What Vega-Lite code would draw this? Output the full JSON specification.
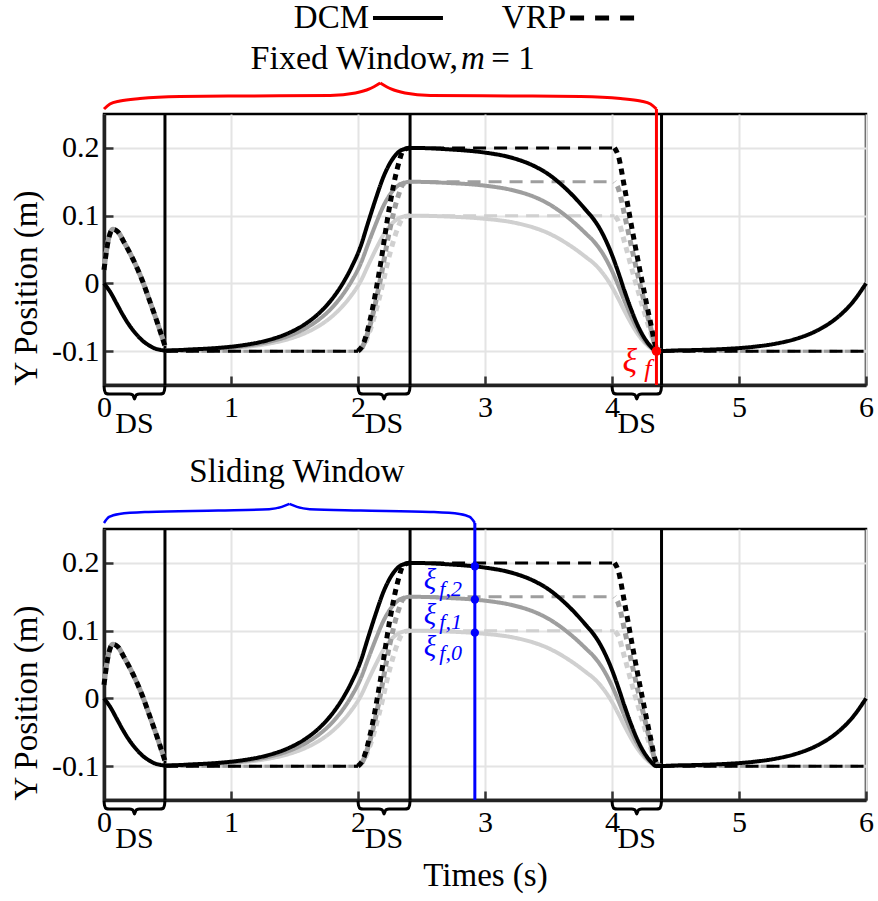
{
 "$schema": "https://vega.github.io/schema/vega-lite/v6.json",
 "background": "white",
 "padding": {"left": 9, "top": 0, "right": 4, "bottom": 4},
 "bounds": "flush",
 "spacing": 144,
 "config": {
  "font": "Liberation Serif",
  "view": {"stroke": "#000", "strokeWidth": 2.5},
  "axis": {
   "labelFont": "Liberation Serif", "titleFont": "Liberation Serif",
   "labelFontSize": 30, "labelColor": "#000",
   "titleFontSize": 33, "titleFontWeight": "normal", "titleColor": "#000",
   "gridColor": "#e4e4e4", "gridWidth": 2,
   "domainColor": "#222", "domainWidth": 3.5,
   "tickColor": "#333", "tickWidth": 2.5, "tickSize": -9, "labelPadding": 16,
   "labelFlush": false, "labelOverlap": false
  }
 },
 "datasets": {
  "curves": [
   {"l":2,"k":"s","g":"d","t":0,"v":0},{"l":2,"k":"s","g":"d","t":0.05,"v":-0.013},{"l":2,"k":"s","g":"d","t":0.1,"v":-0.03},{"l":2,"k":"s","g":"d","t":0.15,"v":-0.047},{"l":2,"k":"s","g":"d","t":0.2,"v":-0.062},{"l":2,"k":"s","g":"d","t":0.25,"v":-0.074},{"l":2,"k":"s","g":"d","t":0.3,"v":-0.084},{"l":2,"k":"s","g":"d","t":0.35,"v":-0.091},{"l":2,"k":"s","g":"d","t":0.4,"v":-0.096},{"l":2,"k":"s","g":"d","t":0.44,"v":-0.098},{"l":2,"k":"s","g":"d","t":0.48,"v":-0.099},
   {"l":2,"k":"s","g":"d","t":0.7,"v":-0.0974},{"l":2,"k":"s","g":"d","t":0.9,"v":-0.0952},{"l":2,"k":"s","g":"d","t":1.1,"v":-0.0911},{"l":2,"k":"s","g":"d","t":1.3,"v":-0.0834},{"l":2,"k":"s","g":"d","t":1.45,"v":-0.0736},{"l":2,"k":"s","g":"d","t":1.6,"v":-0.058},{"l":2,"k":"s","g":"d","t":1.7,"v":-0.0428},{"l":2,"k":"s","g":"d","t":1.8,"v":-0.022},{"l":2,"k":"s","g":"d","t":1.88,"v":0},{"l":2,"k":"s","g":"d","t":1.95,"v":0.0242},{"l":2,"k":"s","g":"d","t":2.02,"v":0.0543},{"l":2,"k":"s","g":"d","t":2.08,"v":0.09},{"l":2,"k":"s","g":"d","t":2.14,"v":0.125},{"l":2,"k":"s","g":"d","t":2.2,"v":0.157},{"l":2,"k":"s","g":"d","t":2.26,"v":0.18},{"l":2,"k":"s","g":"d","t":2.32,"v":0.194},{"l":2,"k":"s","g":"d","t":2.38,"v":0.199},{"l":2,"k":"s","g":"d","t":2.41,"v":0.2},
   {"l":2,"k":"s","g":"d","t":2.7,"v":0.198},{"l":2,"k":"s","g":"d","t":3.0,"v":0.193},{"l":2,"k":"s","g":"d","t":3.2,"v":0.186},{"l":2,"k":"s","g":"d","t":3.4,"v":0.172},{"l":2,"k":"s","g":"d","t":3.5,"v":0.161},{"l":2,"k":"s","g":"d","t":3.6,"v":0.146},{"l":2,"k":"s","g":"d","t":3.7,"v":0.128},{"l":2,"k":"s","g":"d","t":3.8,"v":0.107},{"l":2,"k":"s","g":"d","t":3.85,"v":0.096},{"l":2,"k":"s","g":"d","t":3.9,"v":0.082},{"l":2,"k":"s","g":"d","t":3.95,"v":0.064},{"l":2,"k":"s","g":"d","t":4.0,"v":0.042},{"l":2,"k":"s","g":"d","t":4.05,"v":0.016},{"l":2,"k":"s","g":"d","t":4.1,"v":-0.012},{"l":2,"k":"s","g":"d","t":4.15,"v":-0.038},{"l":2,"k":"s","g":"d","t":4.2,"v":-0.061},{"l":2,"k":"s","g":"d","t":4.25,"v":-0.079},{"l":2,"k":"s","g":"d","t":4.3,"v":-0.092},{"l":2,"k":"s","g":"d","t":4.35,"v":-0.1},
   {"l":2,"k":"s","g":"d","t":4.5,"v":-0.099},{"l":2,"k":"s","g":"d","t":4.7,"v":-0.0982},{"l":2,"k":"s","g":"d","t":4.9,"v":-0.0967},{"l":2,"k":"s","g":"d","t":5.1,"v":-0.0939},{"l":2,"k":"s","g":"d","t":5.3,"v":-0.0886},{"l":2,"k":"s","g":"d","t":5.45,"v":-0.0818},{"l":2,"k":"s","g":"d","t":5.6,"v":-0.071},{"l":2,"k":"s","g":"d","t":5.7,"v":-0.0605},{"l":2,"k":"s","g":"d","t":5.8,"v":-0.0462},{"l":2,"k":"s","g":"d","t":5.9,"v":-0.0267},{"l":2,"k":"s","g":"d","t":6.0,"v":0},
   {"l":2,"k":"w","g":"a","t":0,"v":0.02},{"l":2,"k":"w","g":"a","t":0.03,"v":0.06},{"l":2,"k":"w","g":"a","t":0.07,"v":0.08},{"l":2,"k":"w","g":"a","t":0.11,"v":0.076},{"l":2,"k":"w","g":"a","t":0.16,"v":0.06},{"l":2,"k":"w","g":"a","t":0.23,"v":0.035},{"l":2,"k":"w","g":"a","t":0.3,"v":0.005},{"l":2,"k":"w","g":"a","t":0.36,"v":-0.026},{"l":2,"k":"w","g":"a","t":0.42,"v":-0.058},{"l":2,"k":"w","g":"a","t":0.48,"v":-0.092},
   {"l":2,"k":"n","g":"b","t":0.48,"v":-0.1},{"l":2,"k":"n","g":"b","t":2.0,"v":-0.1},
   {"l":2,"k":"w","g":"c","t":2.0,"v":-0.1},{"l":2,"k":"w","g":"c","t":2.04,"v":-0.09},{"l":2,"k":"w","g":"c","t":2.1,"v":-0.05},{"l":2,"k":"w","g":"c","t":2.17,"v":0.02},{"l":2,"k":"w","g":"c","t":2.25,"v":0.115},{"l":2,"k":"w","g":"c","t":2.31,"v":0.17},{"l":2,"k":"w","g":"c","t":2.36,"v":0.197},{"l":2,"k":"w","g":"c","t":2.41,"v":0.2},
   {"l":2,"k":"n","g":"e","t":2.41,"v":0.2},{"l":2,"k":"n","g":"e","t":4.02,"v":0.2},
   {"l":2,"k":"w","g":"f","t":4.02,"v":0.2},{"l":2,"k":"w","g":"f","t":4.05,"v":0.188},{"l":2,"k":"w","g":"f","t":4.1,"v":0.14},{"l":2,"k":"w","g":"f","t":4.17,"v":0.068},{"l":2,"k":"w","g":"f","t":4.24,"v":0.0},{"l":2,"k":"w","g":"f","t":4.3,"v":-0.055},{"l":2,"k":"w","g":"f","t":4.35,"v":-0.095},{"l":2,"k":"w","g":"f","t":4.39,"v":-0.1},
   {"l":2,"k":"n","g":"h","t":4.39,"v":-0.1},{"l":2,"k":"n","g":"h","t":6.0,"v":-0.1},

   {"l":1,"k":"s","g":"d","t":0.48,"v":-0.099},{"l":1,"k":"s","g":"d","t":0.7,"v":-0.0978},{"l":1,"k":"s","g":"d","t":0.9,"v":-0.096},{"l":1,"k":"s","g":"d","t":1.1,"v":-0.0926},{"l":1,"k":"s","g":"d","t":1.3,"v":-0.0862},{"l":1,"k":"s","g":"d","t":1.45,"v":-0.078},{"l":1,"k":"s","g":"d","t":1.6,"v":-0.065},{"l":1,"k":"s","g":"d","t":1.7,"v":-0.0523},{"l":1,"k":"s","g":"d","t":1.8,"v":-0.035},{"l":1,"k":"s","g":"d","t":1.88,"v":-0.0167},{"l":1,"k":"s","g":"d","t":1.95,"v":0.0035},{"l":1,"k":"s","g":"d","t":2.02,"v":0.0286},{"l":1,"k":"s","g":"d","t":2.08,"v":0.0583},{"l":1,"k":"s","g":"d","t":2.14,"v":0.0875},{"l":1,"k":"s","g":"d","t":2.2,"v":0.1142},{"l":1,"k":"s","g":"d","t":2.26,"v":0.1333},{"l":1,"k":"s","g":"d","t":2.32,"v":0.145},{"l":1,"k":"s","g":"d","t":2.38,"v":0.1492},{"l":1,"k":"s","g":"d","t":2.41,"v":0.15},
   {"l":1,"k":"s","g":"d","t":2.7,"v":0.1483},{"l":1,"k":"s","g":"d","t":3.0,"v":0.1442},{"l":1,"k":"s","g":"d","t":3.2,"v":0.1383},{"l":1,"k":"s","g":"d","t":3.4,"v":0.1267},{"l":1,"k":"s","g":"d","t":3.5,"v":0.1175},{"l":1,"k":"s","g":"d","t":3.6,"v":0.105},{"l":1,"k":"s","g":"d","t":3.7,"v":0.09},{"l":1,"k":"s","g":"d","t":3.8,"v":0.0725},{"l":1,"k":"s","g":"d","t":3.85,"v":0.0633},{"l":1,"k":"s","g":"d","t":3.9,"v":0.0517},{"l":1,"k":"s","g":"d","t":3.95,"v":0.0367},{"l":1,"k":"s","g":"d","t":4.0,"v":0.0183},{"l":1,"k":"s","g":"d","t":4.05,"v":-0.0033},{"l":1,"k":"s","g":"d","t":4.1,"v":-0.0267},{"l":1,"k":"s","g":"d","t":4.15,"v":-0.0483},{"l":1,"k":"s","g":"d","t":4.2,"v":-0.0675},{"l":1,"k":"s","g":"d","t":4.25,"v":-0.0825},{"l":1,"k":"s","g":"d","t":4.3,"v":-0.0933},{"l":1,"k":"s","g":"d","t":4.35,"v":-0.1},
   {"l":1,"k":"w","g":"a","t":0,"v":0.02},{"l":1,"k":"w","g":"a","t":0.03,"v":0.06},{"l":1,"k":"w","g":"a","t":0.07,"v":0.08},{"l":1,"k":"w","g":"a","t":0.11,"v":0.076},{"l":1,"k":"w","g":"a","t":0.16,"v":0.06},{"l":1,"k":"w","g":"a","t":0.23,"v":0.035},{"l":1,"k":"w","g":"a","t":0.3,"v":0.005},{"l":1,"k":"w","g":"a","t":0.36,"v":-0.026},{"l":1,"k":"w","g":"a","t":0.42,"v":-0.058},{"l":1,"k":"w","g":"a","t":0.48,"v":-0.092},
   {"l":1,"k":"n","g":"b","t":0.48,"v":-0.1},{"l":1,"k":"n","g":"b","t":2.0,"v":-0.1},
   {"l":1,"k":"w","g":"c","t":2.0,"v":-0.1},{"l":1,"k":"w","g":"c","t":2.04,"v":-0.0917},{"l":1,"k":"w","g":"c","t":2.1,"v":-0.0583},{"l":1,"k":"w","g":"c","t":2.17,"v":0.0},{"l":1,"k":"w","g":"c","t":2.25,"v":0.0792},{"l":1,"k":"w","g":"c","t":2.31,"v":0.125},{"l":1,"k":"w","g":"c","t":2.36,"v":0.1475},{"l":1,"k":"w","g":"c","t":2.41,"v":0.15},
   {"l":1,"k":"n","g":"e","t":2.41,"v":0.15},{"l":1,"k":"n","g":"e","t":4.02,"v":0.15},
   {"l":1,"k":"w","g":"f","t":4.02,"v":0.15},{"l":1,"k":"w","g":"f","t":4.05,"v":0.14},{"l":1,"k":"w","g":"f","t":4.1,"v":0.1},{"l":1,"k":"w","g":"f","t":4.17,"v":0.04},{"l":1,"k":"w","g":"f","t":4.24,"v":-0.0167},{"l":1,"k":"w","g":"f","t":4.3,"v":-0.0625},{"l":1,"k":"w","g":"f","t":4.35,"v":-0.0958},{"l":1,"k":"w","g":"f","t":4.39,"v":-0.1},
   {"l":1,"k":"n","g":"h","t":4.39,"v":-0.1},{"l":1,"k":"n","g":"h","t":6.0,"v":-0.1},

   {"l":0,"k":"s","g":"d","t":0.48,"v":-0.0993},{"l":0,"k":"s","g":"d","t":0.7,"v":-0.0983},{"l":0,"k":"s","g":"d","t":0.9,"v":-0.0968},{"l":0,"k":"s","g":"d","t":1.1,"v":-0.0941},{"l":0,"k":"s","g":"d","t":1.3,"v":-0.0889},{"l":0,"k":"s","g":"d","t":1.45,"v":-0.0824},{"l":0,"k":"s","g":"d","t":1.6,"v":-0.072},{"l":0,"k":"s","g":"d","t":1.7,"v":-0.0619},{"l":0,"k":"s","g":"d","t":1.8,"v":-0.048},{"l":0,"k":"s","g":"d","t":1.88,"v":-0.0333},{"l":0,"k":"s","g":"d","t":1.95,"v":-0.0172},{"l":0,"k":"s","g":"d","t":2.02,"v":0.0029},{"l":0,"k":"s","g":"d","t":2.08,"v":0.0267},{"l":0,"k":"s","g":"d","t":2.14,"v":0.05},{"l":0,"k":"s","g":"d","t":2.2,"v":0.0713},{"l":0,"k":"s","g":"d","t":2.26,"v":0.0867},{"l":0,"k":"s","g":"d","t":2.32,"v":0.096},{"l":0,"k":"s","g":"d","t":2.38,"v":0.0993},{"l":0,"k":"s","g":"d","t":2.41,"v":0.1},
   {"l":0,"k":"s","g":"d","t":2.7,"v":0.0987},{"l":0,"k":"s","g":"d","t":3.0,"v":0.0953},{"l":0,"k":"s","g":"d","t":3.2,"v":0.0907},{"l":0,"k":"s","g":"d","t":3.4,"v":0.0813},{"l":0,"k":"s","g":"d","t":3.5,"v":0.074},{"l":0,"k":"s","g":"d","t":3.6,"v":0.064},{"l":0,"k":"s","g":"d","t":3.7,"v":0.052},{"l":0,"k":"s","g":"d","t":3.8,"v":0.038},{"l":0,"k":"s","g":"d","t":3.85,"v":0.0307},{"l":0,"k":"s","g":"d","t":3.9,"v":0.0213},{"l":0,"k":"s","g":"d","t":3.95,"v":0.0093},{"l":0,"k":"s","g":"d","t":4.0,"v":-0.0053},{"l":0,"k":"s","g":"d","t":4.05,"v":-0.0227},{"l":0,"k":"s","g":"d","t":4.1,"v":-0.0413},{"l":0,"k":"s","g":"d","t":4.15,"v":-0.0587},{"l":0,"k":"s","g":"d","t":4.2,"v":-0.074},{"l":0,"k":"s","g":"d","t":4.25,"v":-0.086},{"l":0,"k":"s","g":"d","t":4.3,"v":-0.0947},{"l":0,"k":"s","g":"d","t":4.35,"v":-0.1},
   {"l":0,"k":"w","g":"a","t":0,"v":0.02},{"l":0,"k":"w","g":"a","t":0.03,"v":0.06},{"l":0,"k":"w","g":"a","t":0.07,"v":0.08},{"l":0,"k":"w","g":"a","t":0.11,"v":0.076},{"l":0,"k":"w","g":"a","t":0.16,"v":0.06},{"l":0,"k":"w","g":"a","t":0.23,"v":0.035},{"l":0,"k":"w","g":"a","t":0.3,"v":0.005},{"l":0,"k":"w","g":"a","t":0.36,"v":-0.026},{"l":0,"k":"w","g":"a","t":0.42,"v":-0.058},{"l":0,"k":"w","g":"a","t":0.48,"v":-0.092},
   {"l":0,"k":"n","g":"b","t":0.48,"v":-0.1},{"l":0,"k":"n","g":"b","t":2.0,"v":-0.1},
   {"l":0,"k":"w","g":"c","t":2.0,"v":-0.1},{"l":0,"k":"w","g":"c","t":2.04,"v":-0.0933},{"l":0,"k":"w","g":"c","t":2.1,"v":-0.0667},{"l":0,"k":"w","g":"c","t":2.17,"v":-0.02},{"l":0,"k":"w","g":"c","t":2.25,"v":0.0433},{"l":0,"k":"w","g":"c","t":2.31,"v":0.08},{"l":0,"k":"w","g":"c","t":2.36,"v":0.098},{"l":0,"k":"w","g":"c","t":2.41,"v":0.1},
   {"l":0,"k":"n","g":"e","t":2.41,"v":0.1},{"l":0,"k":"n","g":"e","t":4.02,"v":0.1},
   {"l":0,"k":"w","g":"f","t":4.02,"v":0.1},{"l":0,"k":"w","g":"f","t":4.05,"v":0.092},{"l":0,"k":"w","g":"f","t":4.1,"v":0.06},{"l":0,"k":"w","g":"f","t":4.17,"v":0.012},{"l":0,"k":"w","g":"f","t":4.24,"v":-0.0333},{"l":0,"k":"w","g":"f","t":4.3,"v":-0.07},{"l":0,"k":"w","g":"f","t":4.35,"v":-0.0967},{"l":0,"k":"w","g":"f","t":4.39,"v":-0.1},
   {"l":0,"k":"n","g":"h","t":4.39,"v":-0.1},{"l":0,"k":"n","g":"h","t":6.0,"v":-0.1}
  ],
  "vrules": [{"t":0.48,"v":-0.15,"v2":0.25},{"t":2.41,"v":-0.15,"v2":0.25},{"t":4.39,"v":-0.15,"v2":0.25}],
  "braces": [
   {"g":"1","t":0,"v":-0.151},{"g":"1","t":0.004,"v":-0.158},{"g":"1","t":0.016,"v":-0.1625},{"g":"1","t":0.04,"v":-0.1633},{"g":"1","t":0.2,"v":-0.1633},{"g":"1","t":0.226,"v":-0.1645},{"g":"1","t":0.24,"v":-0.1705},{"g":"1","t":0.254,"v":-0.1645},{"g":"1","t":0.28,"v":-0.1633},{"g":"1","t":0.44,"v":-0.1633},{"g":"1","t":0.464,"v":-0.1625},{"g":"1","t":0.476,"v":-0.158},{"g":"1","t":0.48,"v":-0.151},
   {"g":"2","t":2.0,"v":-0.151},{"g":"2","t":2.004,"v":-0.158},{"g":"2","t":2.016,"v":-0.1625},{"g":"2","t":2.04,"v":-0.1633},{"g":"2","t":2.165,"v":-0.1633},{"g":"2","t":2.191,"v":-0.1645},{"g":"2","t":2.205,"v":-0.1705},{"g":"2","t":2.219,"v":-0.1645},{"g":"2","t":2.245,"v":-0.1633},{"g":"2","t":2.37,"v":-0.1633},{"g":"2","t":2.394,"v":-0.1625},{"g":"2","t":2.406,"v":-0.158},{"g":"2","t":2.41,"v":-0.151},
   {"g":"3","t":4.0,"v":-0.151},{"g":"3","t":4.004,"v":-0.158},{"g":"3","t":4.016,"v":-0.1625},{"g":"3","t":4.04,"v":-0.1633},{"g":"3","t":4.155,"v":-0.1633},{"g":"3","t":4.181,"v":-0.1645},{"g":"3","t":4.195,"v":-0.1705},{"g":"3","t":4.209,"v":-0.1645},{"g":"3","t":4.235,"v":-0.1633},{"g":"3","t":4.35,"v":-0.1633},{"g":"3","t":4.374,"v":-0.1625},{"g":"3","t":4.386,"v":-0.158},{"g":"3","t":4.39,"v":-0.151}
  ],
  "ds": [{"t":0.24,"v":-0.208,"s":"DS"},{"t":2.205,"v":-0.208,"s":"DS"},{"t":4.195,"v":-0.208,"s":"DS"}]
 },
 "vconcat": [
  {
   "width": 762, "height": 271,
   "encoding": {
    "x": {"field": "t", "type": "quantitative", "scale": {"domain": [0, 6], "nice": false, "zero": false}, "axis": {"values": [0,1,2,3,4,5,6], "format": "d", "title": null, "labelFont": "Liberation Serif"}},
    "y": {"field": "v", "type": "quantitative", "scale": {"domain": [-0.15, 0.25], "nice": false, "zero": false}, "axis": {"values": [-0.1,0,0.1,0.2], "labelExpr": "datum.value == 0 ? '0' : (datum.value < 0 ? '-' : '') + format(abs(datum.value), '.1f')", "title": "Y Position (m)", "titleAnchor": "start", "titlePadding": 8, "labelPadding": 14, "labelFont": "Liberation Serif", "titleFont": "Liberation Serif"}}
   },
   "layer": [
    {"data": {"name": "vrules"}, "mark": {"type": "rule", "color": "#000", "strokeWidth": 3}, "encoding": {"y2": {"field": "v2"}}},
    {"data": {"name": "curves"}, "transform": [{"filter": "datum.l == 0"}], "mark": {"type": "line", "color": "#d0d0d0", "interpolate": "monotone", "strokeDashOffset": 10},
     "encoding": {"detail": {"field": "g", "type": "nominal"}, "strokeDash": {"field": "k", "type": "nominal", "scale": {"domain": ["s","n","w"], "range": [[1,0],[13,8],[6,5]]}, "legend": null}, "strokeWidth": {"field": "k", "type": "nominal", "scale": {"type": "point", "domain": ["n","s","w"], "range": [3,5], "padding": 0}, "legend": null}}},
    {"data": {"name": "curves"}, "transform": [{"filter": "datum.l == 1"}], "mark": {"type": "line", "color": "#9e9e9e", "interpolate": "monotone", "strokeDashOffset": 5.5},
     "encoding": {"detail": {"field": "g", "type": "nominal"}, "strokeDash": {"field": "k", "type": "nominal", "scale": {"domain": ["s","n","w"], "range": [[1,0],[13,8],[6,5]]}, "legend": null}, "strokeWidth": {"field": "k", "type": "nominal", "scale": {"type": "point", "domain": ["n","s","w"], "range": [3,5], "padding": 0}, "legend": null}}},
    {"data": {"name": "curves"}, "transform": [{"filter": "datum.l == 2"}], "mark": {"type": "line", "color": "#000000", "interpolate": "monotone", "strokeDashOffset": 0},
     "encoding": {"detail": {"field": "g", "type": "nominal"}, "strokeDash": {"field": "k", "type": "nominal", "scale": {"domain": ["s","n","w"], "range": [[1,0],[13,8],[6,5]]}, "legend": null}, "strokeWidth": {"field": "k", "type": "nominal", "scale": {"type": "point", "domain": ["n","s","w"], "range": [3,5], "padding": 0}, "legend": null}}},
    {"data": {"name": "braces"}, "mark": {"type": "line", "color": "#000", "strokeWidth": 3, "interpolate": "monotone"}, "encoding": {"detail": {"field": "g", "type": "nominal"}}},
    {"data": {"name": "ds"}, "mark": {"type": "text", "fontSize": 30, "color": "#000", "baseline": "middle", "align": "center"}, "encoding": {"text": {"field": "s"}}},
    {"data": {"values": [{"t": 4.35, "v": -0.15, "v2": 0.2574}]}, "mark": {"type": "rule", "color": "#ff0000", "strokeWidth": 3}, "encoding": {"y2": {"field": "v2"}}},
    {"data": {"values": [
      {"g":"L","t":0,"v":0.2574},{"g":"L","t":0.047,"v":0.2648},{"g":"L","t":0.126,"v":0.2692},{"g":"L","t":0.283,"v":0.2729},{"g":"L","t":0.598,"v":0.2758},{"g":"L","t":1.15,"v":0.2766},{"g":"L","t":1.78,"v":0.2774},{"g":"L","t":1.98,"v":0.2811},{"g":"L","t":2.09,"v":0.287},{"g":"L","t":2.175,"v":0.2958},
      {"g":"R","t":2.175,"v":0.2958},{"g":"R","t":2.26,"v":0.287},{"g":"R","t":2.37,"v":0.2811},{"g":"R","t":2.57,"v":0.2774},{"g":"R","t":3.2,"v":0.2766},{"g":"R","t":3.752,"v":0.2758},{"g":"R","t":4.067,"v":0.2729},{"g":"R","t":4.224,"v":0.2692},{"g":"R","t":4.303,"v":0.2648},{"g":"R","t":4.35,"v":0.2574}
     ]}, "mark": {"type": "line", "color": "#ff0000", "strokeWidth": 3, "interpolate": "monotone"}, "encoding": {"detail": {"field": "g", "type": "nominal"}}},
    {"data": {"values": [{"t": 4.35, "v": -0.1}]}, "mark": {"type": "point", "filled": true, "color": "#ff0000", "size": 90, "opacity": 1}},
    {"data": {"values": [{"t": 4.14, "v": -0.116, "s": "ξ"}]}, "mark": {"type": "text", "fontSize": 34, "fontStyle": "italic", "color": "#ff0000", "baseline": "middle", "align": "center"}, "encoding": {"text": {"field": "s"}}},
    {"data": {"values": [{"t": 4.283, "v": -0.127, "s": "f"}]}, "mark": {"type": "text", "fontSize": 26, "fontStyle": "italic", "color": "#ff0000", "baseline": "middle", "align": "center"}, "encoding": {"text": {"field": "s"}}},
    {"data": {"values": [{"t": 2.087, "v": 0.3769, "s": "DCM"}, {"t": 3.638, "v": 0.3769, "s": "VRP"}]}, "mark": {"type": "text", "fontSize": 33, "color": "#000", "baseline": "alphabetic", "align": "right"}, "encoding": {"text": {"field": "s"}}},
    {"data": {"values": [{"t": 2.118, "v": 0.3917}, {"t": 2.669, "v": 0.3917}]}, "mark": {"type": "line", "color": "#000", "strokeWidth": 4}},
    {"data": {"values": [{"t": 3.67, "v": 0.3917}, {"t": 4.244, "v": 0.3917}]}, "mark": {"type": "line", "color": "#000", "strokeWidth": 5, "strokeDash": [14, 11]}},
    {"data": {"values": [{"t": 2.787, "v": 0.3164, "s": "Fixed Window,"}]}, "mark": {"type": "text", "fontSize": 34, "color": "#000", "baseline": "alphabetic", "align": "right"}, "encoding": {"text": {"field": "s"}}},
    {"data": {"values": [{"t": 2.811, "v": 0.3164, "s": "m"}]}, "mark": {"type": "text", "fontSize": 33, "fontStyle": "italic", "color": "#000", "baseline": "alphabetic", "align": "left"}, "encoding": {"text": {"field": "s"}}},
    {"data": {"values": [{"t": 3.05, "v": 0.3164, "s": "= 1"}]}, "mark": {"type": "text", "fontSize": 33, "color": "#000", "baseline": "alphabetic", "align": "left"}, "encoding": {"text": {"field": "s"}}}
   ]
  },
  {
   "width": 762, "height": 271,
   "encoding": {
    "x": {"field": "t", "type": "quantitative", "scale": {"domain": [0, 6], "nice": false, "zero": false}, "axis": {"values": [0,1,2,3,4,5,6], "format": "d", "title": "Times (s)", "titlePadding": 22, "labelFont": "Liberation Serif", "titleFont": "Liberation Serif"}},
    "y": {"field": "v", "type": "quantitative", "scale": {"domain": [-0.15, 0.25], "nice": false, "zero": false}, "axis": {"values": [-0.1,0,0.1,0.2], "labelExpr": "datum.value == 0 ? '0' : (datum.value < 0 ? '-' : '') + format(abs(datum.value), '.1f')", "title": "Y Position (m)", "titleAnchor": "start", "titlePadding": 8, "labelPadding": 14, "labelFont": "Liberation Serif", "titleFont": "Liberation Serif"}}
   },
   "layer": [
    {"data": {"name": "vrules"}, "mark": {"type": "rule", "color": "#000", "strokeWidth": 3}, "encoding": {"y2": {"field": "v2"}}},
    {"data": {"name": "curves"}, "transform": [{"filter": "datum.l == 0"}], "mark": {"type": "line", "color": "#d0d0d0", "interpolate": "monotone", "strokeDashOffset": 10},
     "encoding": {"detail": {"field": "g", "type": "nominal"}, "strokeDash": {"field": "k", "type": "nominal", "scale": {"domain": ["s","n","w"], "range": [[1,0],[13,8],[6,5]]}, "legend": null}, "strokeWidth": {"field": "k", "type": "nominal", "scale": {"type": "point", "domain": ["n","s","w"], "range": [3,5], "padding": 0}, "legend": null}}},
    {"data": {"name": "curves"}, "transform": [{"filter": "datum.l == 1"}], "mark": {"type": "line", "color": "#9e9e9e", "interpolate": "monotone", "strokeDashOffset": 5.5},
     "encoding": {"detail": {"field": "g", "type": "nominal"}, "strokeDash": {"field": "k", "type": "nominal", "scale": {"domain": ["s","n","w"], "range": [[1,0],[13,8],[6,5]]}, "legend": null}, "strokeWidth": {"field": "k", "type": "nominal", "scale": {"type": "point", "domain": ["n","s","w"], "range": [3,5], "padding": 0}, "legend": null}}},
    {"data": {"name": "curves"}, "transform": [{"filter": "datum.l == 2"}], "mark": {"type": "line", "color": "#000000", "interpolate": "monotone", "strokeDashOffset": 0},
     "encoding": {"detail": {"field": "g", "type": "nominal"}, "strokeDash": {"field": "k", "type": "nominal", "scale": {"domain": ["s","n","w"], "range": [[1,0],[13,8],[6,5]]}, "legend": null}, "strokeWidth": {"field": "k", "type": "nominal", "scale": {"type": "point", "domain": ["n","s","w"], "range": [3,5], "padding": 0}, "legend": null}}},
    {"data": {"name": "braces"}, "mark": {"type": "line", "color": "#000", "strokeWidth": 3, "interpolate": "monotone"}, "encoding": {"detail": {"field": "g", "type": "nominal"}}},
    {"data": {"name": "ds"}, "mark": {"type": "text", "fontSize": 30, "color": "#000", "baseline": "middle", "align": "center"}, "encoding": {"text": {"field": "s"}}},
    {"data": {"values": [{"t": 2.92, "v": -0.15, "v2": 0.2589}]}, "mark": {"type": "rule", "color": "#0000ff", "strokeWidth": 3}, "encoding": {"y2": {"field": "v2"}}},
    {"data": {"values": [
      {"g":"L","t":0,"v":0.2589},{"g":"L","t":0.04,"v":0.2678},{"g":"L","t":0.12,"v":0.2722},{"g":"L","t":0.35,"v":0.2752},{"g":"L","t":0.9,"v":0.2774},{"g":"L","t":1.3,"v":0.2793},{"g":"L","t":1.4,"v":0.2826},{"g":"L","t":1.46,"v":0.287},
      {"g":"R","t":1.46,"v":0.287},{"g":"R","t":1.52,"v":0.2826},{"g":"R","t":1.62,"v":0.2793},{"g":"R","t":2.02,"v":0.2774},{"g":"R","t":2.57,"v":0.2752},{"g":"R","t":2.8,"v":0.2722},{"g":"R","t":2.88,"v":0.2678},{"g":"R","t":2.92,"v":0.2589}
     ]}, "mark": {"type": "line", "color": "#0000ff", "strokeWidth": 2.5, "interpolate": "monotone"}, "encoding": {"detail": {"field": "g", "type": "nominal"}}},
    {"data": {"values": [{"t": 2.92, "v": 0.195}, {"t": 2.92, "v": 0.146}, {"t": 2.92, "v": 0.097}]}, "mark": {"type": "point", "filled": true, "color": "#0000ff", "size": 70, "opacity": 1}},
    {"data": {"values": [{"t": 2.567, "v": 0.175, "s": "ξ"}, {"t": 2.567, "v": 0.1235, "s": "ξ"}, {"t": 2.567, "v": 0.0765, "s": "ξ"}]}, "mark": {"type": "text", "fontSize": 29, "fontStyle": "italic", "color": "#0000ff", "baseline": "middle", "align": "center"}, "encoding": {"text": {"field": "s"}}},
    {"data": {"values": [{"t": 2.64, "v": 0.161, "s": "f,2"}, {"t": 2.64, "v": 0.1122, "s": "f,1"}, {"t": 2.64, "v": 0.0663, "s": "f,0"}]}, "mark": {"type": "text", "fontSize": 22, "fontStyle": "italic", "color": "#0000ff", "baseline": "middle", "align": "left"}, "encoding": {"text": {"field": "s"}}},
    {"data": {"values": [{"t": 1.52, "v": 0.3196, "s": "Sliding Window"}]}, "mark": {"type": "text", "fontSize": 33, "color": "#000", "baseline": "alphabetic", "align": "center"}, "encoding": {"text": {"field": "s"}}}
   ]
  }
 ]
}
